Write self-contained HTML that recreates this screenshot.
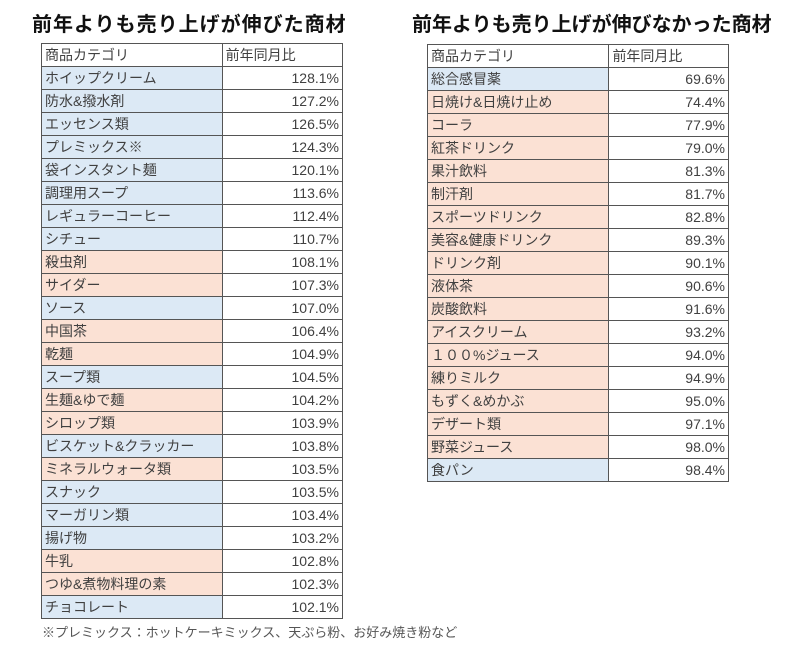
<!DOCTYPE html>
<html><head><meta charset="utf-8"><style>
body{margin:0;width:800px;height:655px;background:#fff;position:relative;font-family:"Liberation Sans","Noto Sans CJK JP",sans-serif;color:#404040;overflow:hidden}
.t{position:absolute;top:8px;font-size:20px;font-weight:bold;color:#111}
table{position:absolute;border-collapse:collapse;font-size:14px}
td{border:1px solid #555;height:22px;padding:0 3px;line-height:22px;white-space:nowrap}
td.v{text-align:right;background:#fff}
.b{background:#dce9f5}.o{background:#fbe1d4}
.h td{background:#fff}
.f{position:absolute;left:42px;top:622px;font-size:13px;color:#555}
</style></head><body>
<div class="t" style="left:32px;letter-spacing:1px">前年よりも売り上げが伸びた商材</div>
<div class="t" style="left:412px;letter-spacing:0px">前年よりも売り上げが伸びなかった商材</div>
<table style="left:41px;top:43px;width:302px">
<colgroup><col style="width:181px"><col style="width:121px"></colgroup>
<tr class="h"><td>商品カテゴリ</td><td>前年同月比</td></tr>
<tr><td class="b">ホイップクリーム</td><td class="v">128.1%</td></tr>
<tr><td class="b">防水&amp;撥水剤</td><td class="v">127.2%</td></tr>
<tr><td class="b">エッセンス類</td><td class="v">126.5%</td></tr>
<tr><td class="b">プレミックス※</td><td class="v">124.3%</td></tr>
<tr><td class="b">袋インスタント麺</td><td class="v">120.1%</td></tr>
<tr><td class="b">調理用スープ</td><td class="v">113.6%</td></tr>
<tr><td class="b">レギュラーコーヒー</td><td class="v">112.4%</td></tr>
<tr><td class="b">シチュー</td><td class="v">110.7%</td></tr>
<tr><td class="o">殺虫剤</td><td class="v">108.1%</td></tr>
<tr><td class="o">サイダー</td><td class="v">107.3%</td></tr>
<tr><td class="b">ソース</td><td class="v">107.0%</td></tr>
<tr><td class="o">中国茶</td><td class="v">106.4%</td></tr>
<tr><td class="o">乾麺</td><td class="v">104.9%</td></tr>
<tr><td class="b">スープ類</td><td class="v">104.5%</td></tr>
<tr><td class="o">生麺&amp;ゆで麺</td><td class="v">104.2%</td></tr>
<tr><td class="o">シロップ類</td><td class="v">103.9%</td></tr>
<tr><td class="b">ビスケット&amp;クラッカー</td><td class="v">103.8%</td></tr>
<tr><td class="o">ミネラルウォータ類</td><td class="v">103.5%</td></tr>
<tr><td class="b">スナック</td><td class="v">103.5%</td></tr>
<tr><td class="b">マーガリン類</td><td class="v">103.4%</td></tr>
<tr><td class="b">揚げ物</td><td class="v">103.2%</td></tr>
<tr><td class="o">牛乳</td><td class="v">102.8%</td></tr>
<tr><td class="o">つゆ&amp;煮物料理の素</td><td class="v">102.3%</td></tr>
<tr><td class="b">チョコレート</td><td class="v">102.1%</td></tr>
</table>
<table style="left:427px;top:44px;width:302px">
<colgroup><col style="width:182px"><col style="width:120px"></colgroup>
<tr class="h"><td>商品カテゴリ</td><td>前年同月比</td></tr>
<tr><td class="b">総合感冒薬</td><td class="v">69.6%</td></tr>
<tr><td class="o">日焼け&amp;日焼け止め</td><td class="v">74.4%</td></tr>
<tr><td class="o">コーラ</td><td class="v">77.9%</td></tr>
<tr><td class="o">紅茶ドリンク</td><td class="v">79.0%</td></tr>
<tr><td class="o">果汁飲料</td><td class="v">81.3%</td></tr>
<tr><td class="o">制汗剤</td><td class="v">81.7%</td></tr>
<tr><td class="o">スポーツドリンク</td><td class="v">82.8%</td></tr>
<tr><td class="o">美容&amp;健康ドリンク</td><td class="v">89.3%</td></tr>
<tr><td class="o">ドリンク剤</td><td class="v">90.1%</td></tr>
<tr><td class="o">液体茶</td><td class="v">90.6%</td></tr>
<tr><td class="o">炭酸飲料</td><td class="v">91.6%</td></tr>
<tr><td class="o">アイスクリーム</td><td class="v">93.2%</td></tr>
<tr><td class="o">１００%ジュース</td><td class="v">94.0%</td></tr>
<tr><td class="o">練りミルク</td><td class="v">94.9%</td></tr>
<tr><td class="o">もずく&amp;めかぶ</td><td class="v">95.0%</td></tr>
<tr><td class="o">デザート類</td><td class="v">97.1%</td></tr>
<tr><td class="o">野菜ジュース</td><td class="v">98.0%</td></tr>
<tr><td class="b">食パン</td><td class="v">98.4%</td></tr>
</table>
<div class="f">※プレミックス：ホットケーキミックス、天ぷら粉、お好み焼き粉など</div>
</body></html>
